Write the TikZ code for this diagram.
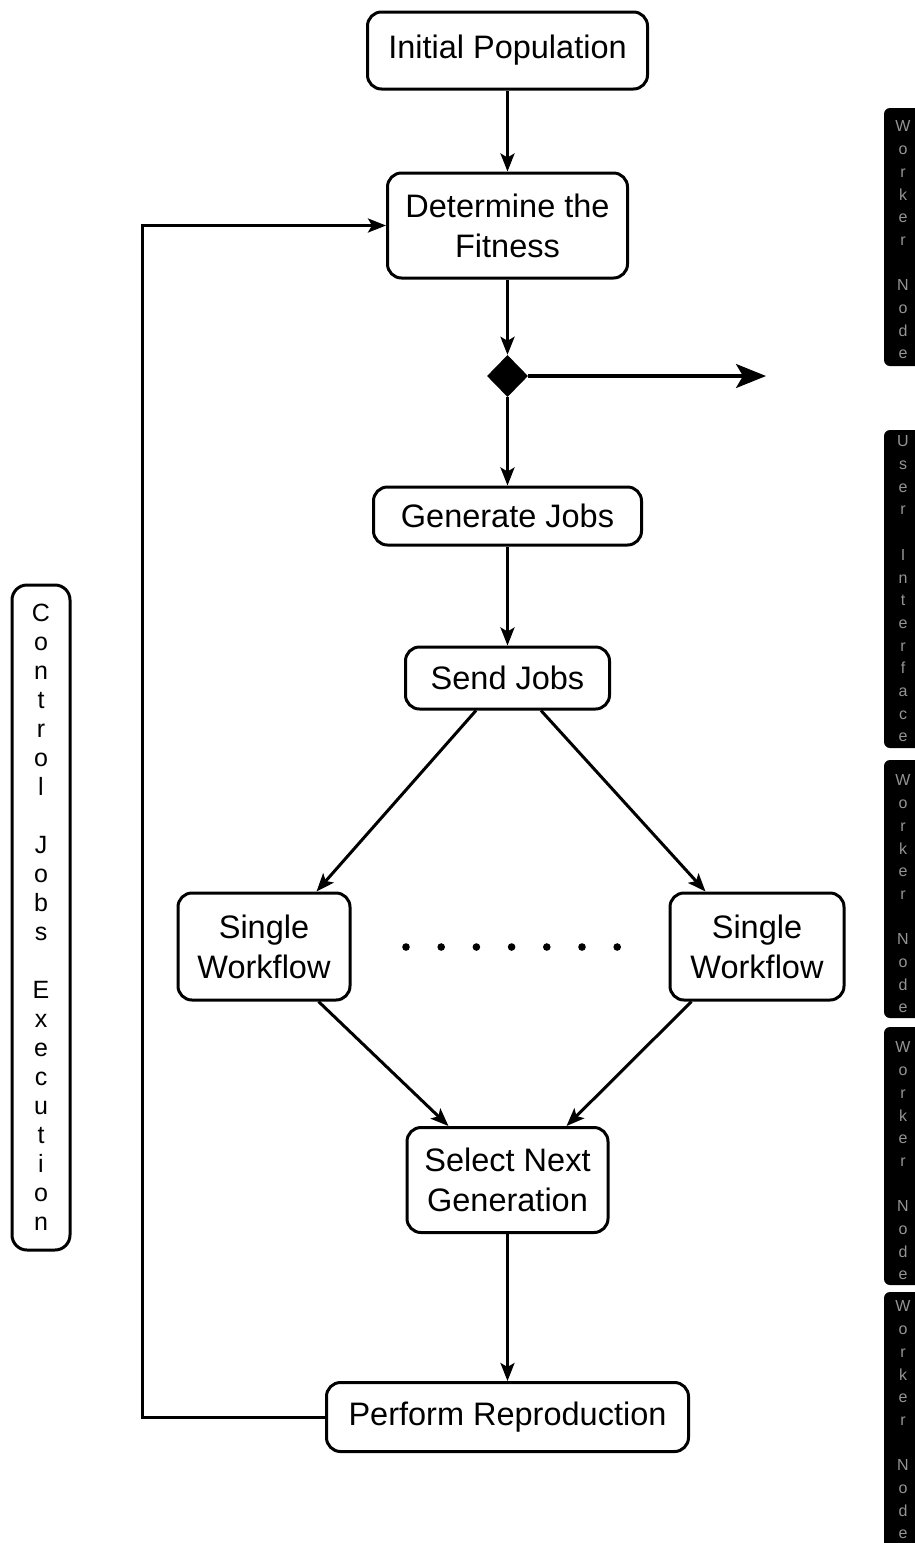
\documentclass[tikz,border=0pt]{standalone}
\usepackage{fontspec}
\setmainfont{Liberation Sans}
\usetikzlibrary{shapes.geometric,arrows.meta}
\begin{document}
\begin{tikzpicture}[x=1pt,y=-1pt,
  box/.style={draw,line width=3pt,rounded corners=14pt,align=center,inner sep=0pt,font=\fontsize{32.5}{40}\selectfont},
  arr/.style={line width=3pt,-{Stealth[length=18pt,width=14pt,inset=4pt]}},
  bigarr/.style={line width=3.2pt,-{Stealth[length=30pt,width=24pt,inset=7pt]}},
  blk/.style={fill=black,rounded corners=6pt,minimum width=40pt,inner sep=0pt},
  blktxt/.style={text=black!42,align=center,inner sep=0pt,font=\fontsize{16}{22.7}\selectfont},
  ctrltxt/.style={align=center,inner sep=0pt,font=\fontsize{25}{29}\selectfont},
]
\useasboundingbox (0,0) rectangle (914,1543);

% main flow
\node[box,minimum width=280pt,minimum height=77pt] (init) at (507.5,50.5) {Initial Population};
\node[box,minimum width=240pt,minimum height=105pt] (fit) at (507.5,225.5) {Determine the\\Fitness};
\node[diamond,fill=black,minimum width=41pt,minimum height=42pt,inner sep=0pt] (dia) at (507.5,376) {};
\coordinate (out) at (766,376);
\node[box,minimum width=268pt,minimum height=58pt] (gen) at (507.5,516) {Generate Jobs};
\node[box,minimum width=204pt,minimum height=62pt] (send) at (507.5,678) {Send Jobs};
\node[box,minimum width=172pt,minimum height=107pt] (swl) at (264,946.5) {Single\\Workflow};
\node[box,minimum width=174pt,minimum height=107pt] (swr) at (757,946.5) {Single\\Workflow};
\node[box,minimum width=201pt,minimum height=105pt] (sel) at (507.5,1180) {Select Next\\Generation};
\node[box,minimum width=362pt,minimum height=69pt] (rep) at (507.5,1417) {Perform Reproduction};

\foreach \i in {0,...,6} \fill (406+35.2*\i,947) circle (3.8pt);

\draw[arr] (init.south) -- (fit.north);
\draw[arr] (fit.south) -- (dia.north);
\draw[bigarr] (dia.east) -- (out);
\draw[arr] (dia.south) -- (gen.north);
\draw[arr] (gen.south) -- (send.north);
\draw[arr] ([xshift=72pt]send.south west) -- ([xshift=140pt]swl.north west);
\draw[arr] ([xshift=-70pt]send.south east) -- ([xshift=37pt]swr.north west);
\draw[arr] ([xshift=142pt]swl.south west) -- ([xshift=43pt]sel.north west);
\draw[arr] ([xshift=23pt]swr.south west) -- ([xshift=-43pt]sel.north east);
\draw[arr] (sel.south) -- (rep.north);
\coordinate (lp) at (142,1417);
\draw[arr] (rep.west) -- (lp) |- (fit.west);

% left control box
\node[draw,line width=3pt,rounded corners=15pt,minimum width=58pt,minimum height=665pt,inner sep=0pt] (ctrl) at (41,917.5) {};
\node[ctrltxt] (ctrlt) at (41,917.5) {C\\o\\n\\t\\r\\o\\l\\\mbox{}\\J\\o\\b\\s\\\mbox{}\\E\\x\\e\\c\\u\\t\\i\\o\\n};

% right black boxes
\node[blk,minimum height=258pt] (w1) at (904,237) {};
\node[blktxt] (w1t) at (903,240) {W\\o\\r\\k\\e\\r\\\mbox{}\\N\\o\\d\\e};
\node[blk,minimum height=318pt] (ui) at (904,589) {};
\node[blktxt] (uit) at (903,589) {U\\s\\e\\r\\\mbox{}\\I\\n\\t\\e\\r\\f\\a\\c\\e};
\node[blk,minimum height=258pt] (w2) at (904,889) {};
\node[blktxt] (w2t) at (903,894) {W\\o\\r\\k\\e\\r\\\mbox{}\\N\\o\\d\\e};
\node[blk,minimum height=258pt] (w3) at (904,1156) {};
\node[blktxt] (w3t) at (903,1161) {W\\o\\r\\k\\e\\r\\\mbox{}\\N\\o\\d\\e};
\node[blk,minimum height=258pt] (w4) at (904,1421) {};
\node[blktxt] (w4t) at (903,1420) {W\\o\\r\\k\\e\\r\\\mbox{}\\N\\o\\d\\e};
\end{tikzpicture}
\end{document}
